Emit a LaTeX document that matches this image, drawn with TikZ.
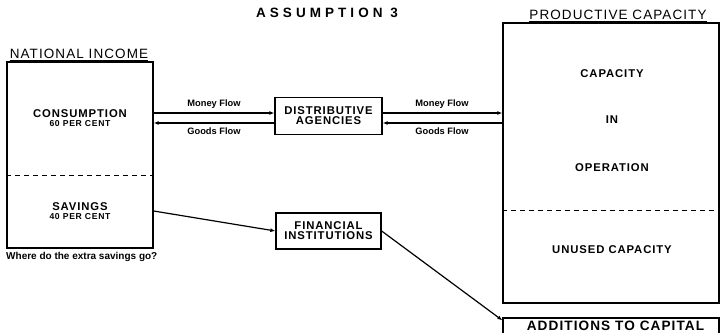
\documentclass[tikz,border=0pt]{standalone}
\usepackage{fontspec}
\setmainfont{Liberation Sans}
\newfontfamily\spaced[LetterSpace=8]{Liberation Sans}
\newfontfamily\wide[LetterSpace=30]{Liberation Sans}
\usetikzlibrary{arrows.meta}
\begin{document}
\begin{tikzpicture}[x=1pt,y=-1pt,
  box/.style={draw, line width=1.3pt, inner sep=0pt},
  caps/.style={font=\spaced\bfseries\fontsize{11.3}{12}\selectfont, align=center},
  tiny/.style={font=\spaced\bfseries\fontsize{8.6}{9}\selectfont},
  flowlab/.style={font=\bfseries\fontsize{9.3}{10}\selectfont, inner sep=0pt},
  heading/.style={font=\spaced\fontsize{13.5}{15}\selectfont, inner sep=0pt},
  flow/.style={line width=1.2pt, -{Latex[length=5pt,width=4pt]}},
  divider/.style={line width=1pt, dash pattern=on 5pt off 4pt},
]
\useasboundingbox (0,0) rectangle (722,332);

% title
\node[font=\wide\bfseries\fontsize{13.5}{15}\selectfont, inner sep=0pt] (title) at (327,12.5) {ASSUMPTION 3};

% national income block
\node[box, minimum width=146pt, minimum height=186pt] (ni) at (80,155) {};
\node[heading, anchor=base] (nih) at (79,58) {NATIONAL INCOME};
\draw[line width=0.8pt] (nih.base west) ++(0,2) -- ([yshift=-2pt]nih.base east);
\draw[divider] (ni.west |- 0,175) -- (ni.east |- 0,175);
\node[caps, anchor=base] (cons) at (80,117) {CONSUMPTION};
\node[tiny, anchor=base] (consp) at (80,126.5) {60 PER CENT};
\node[caps, anchor=base] (sav) at (80,210) {SAVINGS};
\node[tiny, anchor=base] (savp) at (80,219.5) {40 PER CENT};
\node[font=\bfseries\fontsize{10}{11}\selectfont, anchor=base west, inner sep=0pt] (q) at (6,259) {Where do the extra savings go?};

% productive capacity block
\node[box, minimum width=216pt, minimum height=280pt] (pc) at (611,163) {};
\node[heading, anchor=base] (pch) at (618,19) {PRODUCTIVE CAPACITY};
\draw[line width=0.8pt] (pch.base west) ++(0,2) -- ([yshift=-2pt]pch.base east);
\draw[divider] (pc.west |- 0,210) -- (pc.east |- 0,210);
\node[caps, anchor=base] (c1) at (612,77) {CAPACITY};
\node[caps, anchor=base] (c2) at (612,123) {IN};
\node[caps, anchor=base] (c3) at (612,171) {OPERATION};
\node[caps, anchor=base] (un) at (612,253) {UNUSED CAPACITY};

% additions to capital
\node[box, minimum width=216pt, minimum height=28pt] (ad) at (611,332) {};
\node[font=\spaced\bfseries\fontsize{13.6}{15}\selectfont, anchor=base, inner sep=0pt] (adt) at (615.5,330.5) {ADDITIONS TO CAPITAL};

% intermediary boxes
\node[box, minimum width=107pt, minimum height=37pt, caps] (da) at (328.5,115.8) {DISTRIBUTIVE\\[-2pt]AGENCIES};
\node[box, minimum width=105pt, minimum height=36pt, caps] (fi) at (328.5,231) {FINANCIAL\\[-2pt]INSTITUTIONS};

% flows between income and distributive agencies
\draw[flow] (ni.east |- 0,113) -- (da.west |- 0,113);
\draw[flow] (da.west |- 0,123) -- (ni.east |- 0,123);
\node[flowlab] at (214,104) {Money Flow};
\node[flowlab] at (214,131) {Goods Flow};

% flows between distributive agencies and productive capacity
\draw[flow] (da.east |- 0,113) -- (pc.west |- 0,113);
\draw[flow] (pc.west |- 0,123) -- (da.east |- 0,123);
\node[flowlab] at (442,104) {Money Flow};
\node[flowlab] at (442,131) {Goods Flow};

% savings channel
\draw[flow] (ni.east |- 0,211) -- (fi.west);
\draw[flow] (fi.east) -- ([yshift=-3pt]ad.north west);
\end{tikzpicture}
\end{document}
